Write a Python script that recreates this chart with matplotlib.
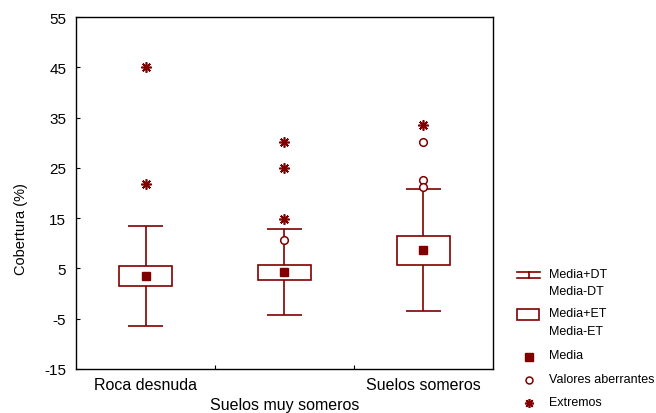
import numpy as np
import matplotlib
matplotlib.use('Agg')
import matplotlib.pyplot as plt
from matplotlib.patches import Rectangle

plt.rcParams['font.family'] = ['Liberation Sans', 'DejaVu Sans']

# Cobertura por tipo de suelo: media, error tipico y desviacion tipica
grupos = ['Roca desnuda', 'Suelos muy someros', 'Suelos someros']
media = [3.5, 4.25, 8.6]
et = [1.9, 1.5, 2.9]
dt = [9.95, 8.6, 12.1]
aberrantes = [[], [10.7], [30.1, 22.6, 21.2]]
extremos = [[45.0, 21.8], [30.1, 25.0, 14.8], [33.5]]

color = '#800000'
asterisco = (8, 2, 0)
pos = np.arange(1, len(grupos) + 1)

fig = plt.figure(figsize=(6.56, 4.14), dpi=100)
ax = fig.add_axes([76/656, 1-370/414, 417/656, 352/414])

m = np.array(media); e = np.array(et); d = np.array(dt)
# cajas media +/- ET
ax.bar(pos, 2*e, bottom=m-e, width=0.38, fill=False, edgecolor=color, linewidth=1.2, zorder=2)
# bigotes media +/- DT
ax.vlines(pos, m+e, m+d, color=color, linewidth=1.2)
ax.vlines(pos, m-d, m-e, color=color, linewidth=1.2)
ax.hlines(m+d, pos-0.125, pos+0.125, color=color, linewidth=1.2)
ax.hlines(m-d, pos-0.125, pos+0.125, color=color, linewidth=1.2)
ax.plot(pos, m, 's', color=color, markersize=6, zorder=3)
for p, vals in zip(pos, aberrantes):
    ax.plot([p]*len(vals), vals, 'o', mfc='white', mec=color, mew=1.1, markersize=5.5, zorder=3)
for p, vals in zip(pos, extremos):
    ax.plot([p]*len(vals), vals, marker=asterisco, ls='none', color=color, mew=1.2, markersize=7.5, zorder=3)

ax.set_xlim(0.5, 3.5)
ax.set_ylim(-15, 55)
ax.set_yticks(np.arange(-15, 56, 10))
ax.set_yticklabels([str(v) for v in range(-15, 56, 10)])
ax.set_xticks([1.5, 2.5])
ax.set_xticklabels([])
ax.tick_params(axis='both', direction='in', length=3, width=0.8, labelsize=11, pad=7)
for sp in ax.spines.values():
    sp.set_linewidth(1.0)
ax.set_ylabel('Cobertura (%)', fontsize=10.5)
ax.yaxis.set_label_coords(-0.115, 0.4)
for i, g in enumerate(grupos):
    yoff = -0.045 if i % 2 == 0 else -0.1
    ax.text(pos[i], yoff, g, transform=ax.get_xaxis_transform(), ha='center', va='center', fontsize=11.5)

# leyenda dibujada en pixeles
lg = fig.add_axes([0, 0, 1, 1], facecolor='none')
lg.set_xlim(0, 656); lg.set_ylim(414, 0); lg.axis('off')
lg.plot([517, 540], [273, 273], color=color, lw=1.2)
lg.plot([517, 540], [279, 279], color=color, lw=1.2)
lg.plot([528.5, 528.5], [273, 279], color=color, lw=1.2)
lg.add_patch(Rectangle((517, 310), 22, 10.5, fill=False, edgecolor=color, lw=1.2))
lg.plot([528.5], [357.5], 's', color=color, markersize=5.5)
lg.plot([528.5], [381], 'o', mfc='white', mec=color, mew=1.1, markersize=5)
lg.plot([528.5], [404], marker=asterisco, color=color, mew=1.2, markersize=6.5)
etiquetas = [('Media+DT', 275), ('Media-DT', 292), ('Media+ET', 314), ('Media-ET', 332),
             ('Media', 356), ('Valores aberrantes', 380), ('Extremos', 403)]
for txt, y in etiquetas:
    lg.text(549, y, txt, ha='left', va='center', fontsize=9)

fig.savefig('out.png', dpi=100)
